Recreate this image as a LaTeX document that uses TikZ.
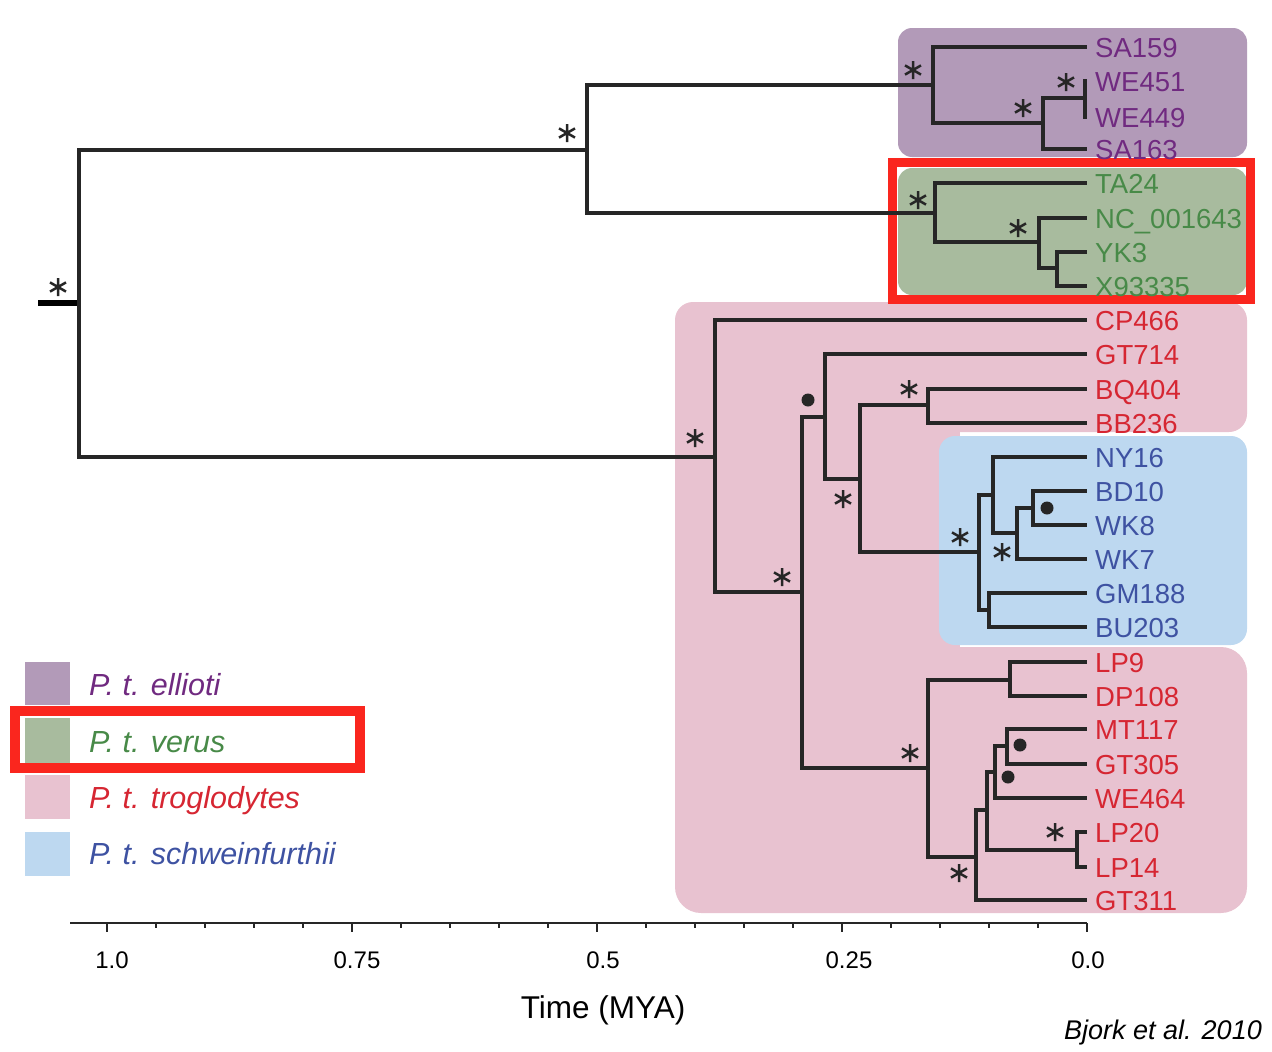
\documentclass[tikz,border=0pt]{standalone}
\usepackage{fontspec}
\setmainfont{Liberation Sans}
\definecolor{treeline}{RGB}{38,38,38}
\definecolor{ellbox}{RGB}{178,154,184}
\definecolor{elltxt}{RGB}{112,42,128}
\definecolor{verbox}{RGB}{168,187,158}
\definecolor{vertxt}{RGB}{72,138,72}
\definecolor{trobox}{RGB}{232,194,208}
\definecolor{trotxt}{RGB}{214,38,50}
\definecolor{schbox}{RGB}{189,216,240}
\definecolor{schtxt}{RGB}{62,82,162}
\definecolor{hilite}{RGB}{250,38,30}
\begin{document}
\begin{tikzpicture}[x=1pt,y=-1pt,
  branch/.style={draw=treeline,line width=4pt},
  leaflbl/.style={anchor=base west,inner sep=0pt,font=\fontsize{27.5}{30}\selectfont},
  legtxt/.style={anchor=base west,inner sep=0pt,font=\fontsize{30.5}{33}\selectfont\itshape},
  axlbl/.style={inner sep=0pt,font=\fontsize{24}{26}\selectfont},
  astk/.style={inner sep=0pt,minimum size=22pt,path picture={
     \draw[treeline,line width=2.5pt,shift={(path picture bounding box.center)}]
       (0,-9)--(0,9) (-8,-4.6)--(8,4.6) (-8,4.6)--(8,-4.6);}},
  bdot/.style={circle,fill=treeline,inner sep=0pt,minimum size=13pt},
  frame/.style={draw=hilite,line width=9.5pt},
  axtick/.style={draw=treeline,line width=1.5pt}]
\useasboundingbox (0,0) rectangle (1272,1052);
% clade backgrounds
\fill[ellbox,rounded corners=14pt] (898,28) rectangle (1247,157);
\fill[verbox,rounded corners=14pt] (898,168) rectangle (1247,295);
\fill[trobox,rounded corners=18pt] (675,302) rectangle (1247,432);
\fill[trobox,rounded corners=26pt] (675,647) rectangle (1247,913);
\fill[trobox] (675,380) rectangle (960,700);
\fill[schbox,rounded corners=16pt] (939,436) rectangle (1247,645);
% highlight frames
\draw[frame] (892.5,162.5) rectangle (1250.5,299.5);
\draw[frame] (15,711) rectangle (360,768);
% internal nodes
\coordinate (rs) at (38,303);
\coordinate (r) at (79,303);
\coordinate (A) at (587,150);
\coordinate (E) at (933,85);
\coordinate (E2) at (1043,123);
\coordinate (E3) at (1085,98);
\coordinate (V) at (935,213);
\coordinate (V2) at (1039,242);
\coordinate (V3) at (1057,268);
\coordinate (T) at (715,457);
\coordinate (T2) at (802,592);
\coordinate (T3) at (825,417);
\coordinate (T5) at (860,479);
\coordinate (T6) at (928,405);
\coordinate (T7) at (979,552);
\coordinate (T8) at (993,495);
\coordinate (T10) at (1017,533);
\coordinate (T11) at (1033,508);
\coordinate (T9) at (989,610);
\coordinate (T4) at (928,768);
\coordinate (T12) at (1010,680);
\coordinate (T13) at (976,857);
\coordinate (T14) at (987,810);
\coordinate (T15) at (995,772);
\coordinate (T17) at (1007,746);
\coordinate (T16) at (1077,850);
% leaves
\foreach \n/\t/\y/\c in {
  SA159/SA159/47/elltxt, WE451/WE451/81/elltxt, WE449/WE449/117/elltxt, SA163/SA163/149/elltxt,
  TA24/TA24/183/vertxt, NC/NC\_001643/218/vertxt, YK3/YK3/252/vertxt, X93335/X93335/286/vertxt,
  CP466/CP466/320/trotxt, GT714/GT714/354/trotxt, BQ404/BQ404/389/trotxt, BB236/BB236/423/trotxt,
  NY16/NY16/457/schtxt, BD10/BD10/491/schtxt, WK8/WK8/525/schtxt, WK7/WK7/559/schtxt,
  GM188/GM188/593/schtxt, BU203/BU203/627/schtxt,
  LP9/LP9/662/trotxt, DP108/DP108/696/trotxt, MT117/MT117/729/trotxt, GT305/GT305/764/trotxt,
  WE464/WE464/798/trotxt, LP20/LP20/832/trotxt, LP14/LP14/867/trotxt, GT311/GT311/900/trotxt}{
  \coordinate (t\n) at (1087,\y);
  \node[leaflbl,text=\c] (l\n) at (1095,\y+10) {\t};
}
% branches
\draw[draw=black,line width=6pt] (rs) -- (r);
\foreach \p/\c in {r/A, r/T, A/E, A/V, E/tSA159, E/E2, E2/E3, E2/tSA163, E3/tWE451, E3/tWE449,
  V/tTA24, V/V2, V2/tNC, V2/V3, V3/tYK3, V3/tX93335,
  T/tCP466, T/T2, T2/T3, T2/T4, T3/tGT714, T3/T5, T5/T6, T5/T7, T6/tBQ404, T6/tBB236,
  T7/T8, T7/T9, T8/tNY16, T8/T10, T10/T11, T10/tWK7, T11/tBD10, T11/tWK8, T9/tGM188, T9/tBU203,
  T4/T12, T4/T13, T12/tLP9, T12/tDP108, T13/T14, T13/tGT311, T14/T15, T14/T16,
  T15/T17, T15/tWE464, T17/tMT117, T17/tGT305, T16/tLP20, T16/tLP14}{
  \draw[branch] (\p) |- (\c);
}
% support marks
\foreach \i/\x/\y in {1/58/287, 2/567/133, 3/913/70, 4/1066/82, 5/1023/108, 6/918/200, 7/1018/228,
  8/695/438, 9/782/577, 10/909/389, 11/843/499, 12/960/537, 13/1002/552, 14/910/753, 15/959/873, 16/1055/832}{
  \node[astk] (s\i) at (\x,\y) {};
}
\foreach \i/\x/\y in {1/808/400, 2/1047/508, 3/1020/745, 4/1008/777}{
  \node[bdot] (d\i) at (\x,\y) {};
}
% legend
\fill[ellbox] (25,662) rectangle (70,705);
\fill[verbox] (25,718) rectangle (70,763);
\fill[trobox] (25,775) rectangle (70,819);
\fill[schbox] (25,832) rectangle (70,876);
\node[legtxt,text=elltxt] (lg1) at (89,695) {P. t. ellioti};
\node[legtxt,text=vertxt] (lg2) at (89,752) {P. t. verus};
\node[legtxt,text=trotxt] (lg3) at (89,808) {P. t. troglodytes};
\node[legtxt,text=schtxt] (lg4) at (89,864) {P. t. schweinfurthii};
% axis
\coordinate (ax0) at (70,923);
\coordinate (ax1) at (1087,923);
\draw[draw=treeline,line width=2pt] (ax0) -- (ax1);
\foreach \k in {0,...,20}{
  \draw[axtick] (1087-\k*49,923) -- ++(0,5);
}
\foreach \k in {0,5,10,15,20}{
  \draw[axtick] (1087-\k*49,923) -- ++(0,9);
}
\node[axlbl] (a1) at (112,960) {1.0};
\node[axlbl] (a2) at (357,960) {0.75};
\node[axlbl] (a3) at (603,960) {0.5};
\node[axlbl] (a4) at (849,960) {0.25};
\node[axlbl] (a5) at (1088,960) {0.0};
\node[inner sep=0pt,font=\fontsize{31.5}{34}\selectfont] (xt) at (603,1010) {Time (MYA)};
\node[anchor=east,inner sep=0pt,font=\fontsize{27}{30}\selectfont\itshape] (cite) at (1262,1033) {Bjork et al. 2010};
\end{tikzpicture}
\end{document}
